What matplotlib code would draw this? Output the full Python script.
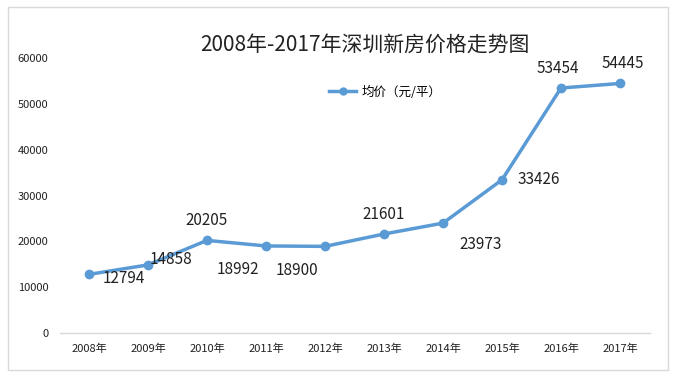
import matplotlib
matplotlib.use("Agg")
import matplotlib.pyplot as plt
from matplotlib.lines import Line2D
from matplotlib.patches import Rectangle

plt.rcParams['font.family'] = ['Noto Sans CJK SC', 'DejaVu Sans']

years = ['2008年', '2009年', '2010年', '2011年', '2012年', '2013年', '2014年', '2015年', '2016年', '2017年']
prices = [12794, 14858, 20205, 18992, 18900, 21601, 23973, 33426, 53454, 54445]
yticks = [0, 10000, 20000, 30000, 40000, 50000, 60000]
title = '2008年-2017年深圳新房价格走势图'
series_name = '均价（元/平）'

# label offsets in points (dx, dy) and alignment
label_offsets = [(10, -3, 'left', 'center'), (1, 4, 'left', 'center'), (0, 8, 'center', 'bottom'),
                 (-5, -11, 'right', 'top'), (-5, -11, 'right', 'top'), (0, 8, 'center', 'bottom'),
                 (12, -9, 'left', 'top'), (11, 0, 'left', 'center'), (-2, 8, 'center', 'bottom'),
                 (2, 8, 'center', 'bottom')]

fig = plt.figure(figsize=(6.76, 3.79), dpi=100)
fig.patch.set_facecolor('white')
fig.add_artist(Rectangle((8/676, 1 - 370/379), 660/676, 363/379, transform=fig.transFigure,
                         fill=False, edgecolor='#d9d9d9', linewidth=1))

ax = fig.add_axes([59.5/676, 1 - 333/379, 590/676, 275/379])
x = list(range(len(years)))
color = '#5b9bd5'
ax.plot(x, prices, color=color, linewidth=2.5, marker='o', markersize=6, label=series_name)
ax.set_xlim(-0.5, len(years) - 0.5)
ax.set_ylim(0, 60000)
ax.set_xticks(x)
ax.set_xticklabels(years, fontsize=8, color='#222222')
ax.set_yticks(yticks)
ax.set_yticklabels([str(v) for v in yticks], fontsize=8, color='#222222')
for s in ['top', 'right', 'left']:
    ax.spines[s].set_visible(False)
ax.spines['bottom'].set_color('#d9d9d9')
ax.spines['bottom'].set_linewidth(1)
ax.tick_params(axis='both', length=0)
ax.tick_params(axis='x', pad=8)
ax.tick_params(axis='y', pad=8)
ax.patch.set_alpha(0)

for xi, v, (dx, dy, ha, va) in zip(x, prices, label_offsets):
    ax.annotate(str(v), (xi, v), xytext=(dx, dy), textcoords='offset points',
                ha=ha, va=va, fontsize=11, color='#222222')

fig.text(365/676, 1 - 45/379, title, ha='center', va='center', fontsize=15, color='#222222')

handle = Line2D([0], [0], color=color, linewidth=2.5, marker='o', markersize=5)
fig.legend([handle], [series_name], loc='center', bbox_to_anchor=(385/676, 1 - 92/379),
           frameon=False, fontsize=9, handlelength=2.2, handletextpad=0.4)

fig.savefig('out.png', dpi=100, facecolor='white')
